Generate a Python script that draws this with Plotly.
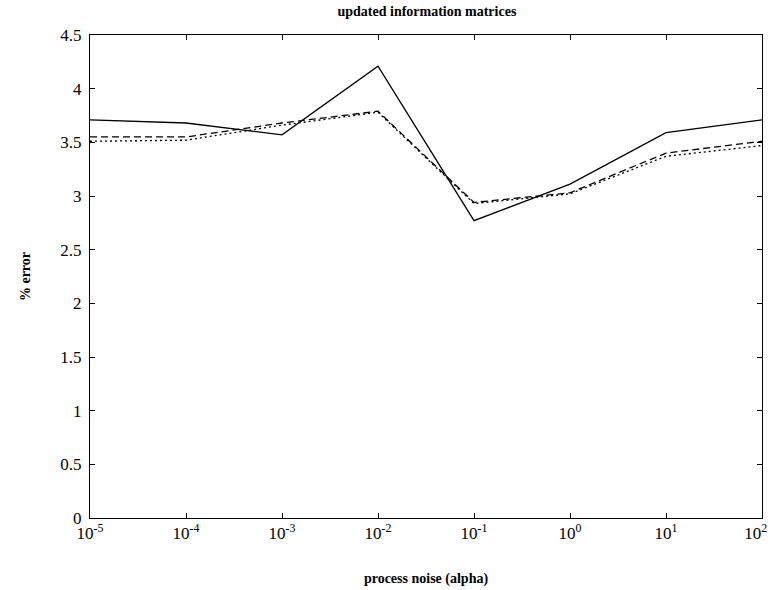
import plotly.graph_objects as go

alpha = [1e-5, 1e-4, 1e-3, 1e-2, 1e-1, 1e0, 1e1, 1e2]
tick_vals = [1e-5, 1e-4, 1e-3, 1e-2, 1e-1, 1e0, 1e1, 1e2]
tick_text = ["10<sup>-5</sup>", "10<sup>-4</sup>", "10<sup>-3</sup>", "10<sup>-2</sup>",
             "10<sup>-1</sup>", "10<sup>0</sup>", "10<sup>1</sup>",
             "10<sup>2</sup>&nbsp;&nbsp;&nbsp;"]
y_ticks = [0, 0.5, 1, 1.5, 2, 2.5, 3, 3.5, 4, 4.5]
y_text = ["0", "0.5", "1", "1.5", "2", "2.5", "3", "3.5", "4", "4.5"]

solid = [3.71, 3.68, 3.57, 4.21, 2.77, 3.11, 3.59, 3.71]
dashed = [3.55, 3.55, 3.68, 3.79, 2.94, 3.03, 3.40, 3.51]
dotted = [3.51, 3.52, 3.66, 3.78, 2.93, 3.02, 3.37, 3.47]

FONT = "Liberation Serif"

fig = go.Figure()
fig.add_trace(go.Scatter(x=alpha, y=solid, mode="lines",
                         line=dict(color="black", width=1.3, dash="solid")))
fig.add_trace(go.Scatter(x=alpha, y=dashed, mode="lines",
                         line=dict(color="black", width=1.3, dash="7px,4px")))
fig.add_trace(go.Scatter(x=alpha, y=dotted, mode="lines",
                         line=dict(color="black", width=1.3, dash="2px,3px")))

fig.update_layout(
    width=772, height=590,
    margin=dict(l=90, r=10, t=35, b=72),
    paper_bgcolor="white", plot_bgcolor="white",
    showlegend=False,
    font=dict(family=FONT, color="black", size=16),
    title=dict(text="<b>updated information matrices</b>", x=0.553, xanchor="center",
               y=0.99, yanchor="top", font=dict(family=FONT, size=14)),
    xaxis=dict(type="log", range=[-5, 2], tickvals=tick_vals, ticktext=tick_text,
               ticks="inside", ticklen=5, tickcolor="black", showgrid=False,
               showline=True, linecolor="black", linewidth=1, mirror="ticks",
               zeroline=False, tickfont=dict(family=FONT, size=17),
               ticklabeloverflow="allow", automargin=False,
               title=dict(text="<b>process noise (alpha)</b>", font=dict(family=FONT, size=14),
                          standoff=30)),
    yaxis=dict(range=[0, 4.5], tickvals=y_ticks, ticktext=y_text,
               ticks="inside", ticklen=5, tickcolor="black", showgrid=False,
               showline=True, linecolor="black", linewidth=1, mirror="ticks",
               zeroline=False, tickfont=dict(family=FONT, size=17),
               ticklabelstandoff=4, automargin=False,
               title=dict(text="<b>% error</b>", font=dict(family=FONT, size=14),
                          standoff=26)),
)

fig.write_html("out.html")
